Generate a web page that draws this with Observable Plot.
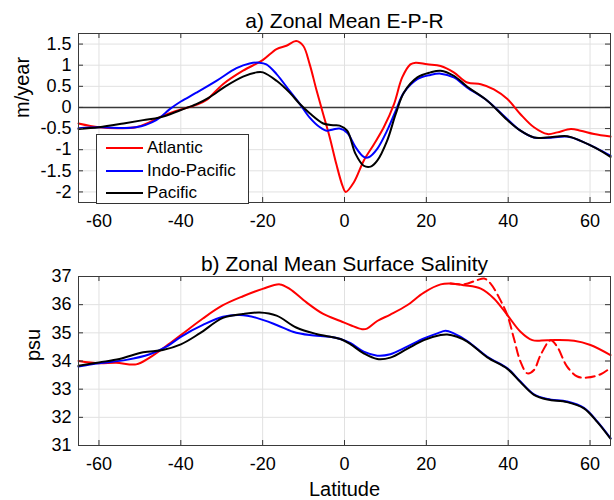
<!DOCTYPE html>
<html>
<head>
<meta charset="utf-8">
<script src="https://cdn.jsdelivr.net/npm/d3@7"></script>
<script src="https://cdn.jsdelivr.net/npm/@observablehq/plot@0.6"></script>
<style>
  body { margin: 0; background: #fff; }
  #chart { position: relative; width: 614px; height: 500px; font-family: "Liberation Sans", Arial, sans-serif; }
  #chart svg { display: block; }
  .legend { position: absolute; left: 96px; top: 134px; width: 151px; height: 68px; border: 1px solid #333; background: #fff; font-size: 17px; color: #000; }
  .legend .row { position: absolute; left: 0; height: 20px; width: 100%; }
  .legend .sw { position: absolute; left: 9px; top: 9px; width: 37px; height: 2px; }
  .legend .lb { position: absolute; left: 50px; top: 0; line-height: 20px; white-space: nowrap; }
</style>
</head>
<body>
<div id="chart"></div>
<script>
// ---------- data ----------
const series = ["Atlantic", "Indo-Pacific", "Pacific"];
const colors = ["#ff0000", "#0000ff", "#000000"];
const xTicks = [-60, -40, -20, 0, 20, 40, 60];
const eprTicks = [-2, -1.5, -1, -0.5, 0, 0.5, 1, 1.5];
const salTicks = [31, 32, 33, 34, 35, 36, 37];

// a) E-P-R (m/year)
const atlEprLat = [-65, -60, -55, -51, -47.6, -44.4, -40, -36.2, -33.8, -29.7, -24.8, -20, -16.6, -14.2, -11.8, -10.1, -8.5, -6.9, -5.2, -3.6, -2, -0.5, 0.3, 2.3, 4.7, 7.2, 9.6, 12.1, 14.1, 16.1, 17.4, 20.2, 23.5, 26.7, 30, 33.3, 36.5, 39.8, 43, 46.3, 49.6, 52, 55.3, 57.7, 61, 65];
const atlEpr = [-0.38, -0.47, -0.49, -0.47, -0.35, -0.2, -0.05, 0.06, 0.17, 0.55, 0.87, 1.12, 1.38, 1.46, 1.57, 1.46, 1.02, 0.43, -0.16, -0.71, -1.34, -1.85, -2.0, -1.77, -1.26, -0.87, -0.47, 0.08, 0.71, 1.02, 1.06, 1.02, 0.98, 0.83, 0.59, 0.55, 0.43, 0.2, -0.16, -0.47, -0.63, -0.59, -0.51, -0.55, -0.63, -0.69];

const indEprLat = [-65, -60, -51, -46, -42.7, -40, -36.2, -31.3, -26.4, -23.2, -20.8, -19.1, -16.6, -13.4, -10.9, -8.5, -6, -4.4, -2.8, -1.2, 0.65, 2.7, 4.7, 5.9, 8, 10.4, 12.5, 14.5, 17.8, 21, 23.5, 26.7, 30, 34.9, 39.8, 43, 46.3, 49.6, 54.4, 57.7, 61.8, 65];
const indEpr = [-0.49, -0.47, -0.47, -0.3, -0.04, 0.14, 0.35, 0.63, 0.93, 1.04, 1.06, 1.02, 0.79, 0.39, 0.08, -0.24, -0.47, -0.55, -0.52, -0.5, -0.6, -0.94, -1.17, -1.18, -0.98, -0.55, -0.08, 0.35, 0.67, 0.77, 0.8, 0.71, 0.47, 0.16, -0.28, -0.55, -0.71, -0.72, -0.69, -0.79, -0.98, -1.14];

const pacEprLat = [-65, -60, -54, -49.2, -45.2, -40, -36.2, -33, -28.9, -24.8, -21.5, -19.9, -16.6, -13.4, -10.9, -8.5, -5.2, -2.8, -1.2, 0.65, 2.7, 4.7, 6.4, 8, 10.4, 12.5, 14.5, 17.8, 21, 23.5, 26.7, 30, 34.9, 39.8, 43, 46.3, 49.6, 54.4, 57.7, 61.8, 65];
const pacEpr = [-0.51, -0.47, -0.38, -0.3, -0.24, -0.06, 0.08, 0.24, 0.51, 0.73, 0.83, 0.83, 0.63, 0.35, 0.08, -0.14, -0.38, -0.42, -0.43, -0.55, -1.1, -1.38, -1.4, -1.26, -0.79, -0.16, 0.35, 0.71, 0.83, 0.87, 0.75, 0.49, 0.16, -0.3, -0.55, -0.71, -0.71, -0.68, -0.79, -0.98, -1.17];

// b) Surface salinity (psu)
const atlSalLat = [-65, -60, -55.8, -50.9, -47.6, -43.5, -40, -34.6, -29.7, -24.8, -20, -15.8, -13.4, -9.3, -5.2, -1, 1.5, 4.3, 5.5, 8, 11.2, 15.3, 19.4, 23.5, 25.9, 29.2, 33.3, 36.5, 39.8, 43, 45.9, 49.6, 56.1, 60.1, 65];
const atlSal = [34.0, 33.92, 33.94, 33.88, 34.12, 34.54, 34.92, 35.51, 35.98, 36.3, 36.56, 36.72, 36.56, 36.08, 35.67, 35.42, 35.27, 35.13, 35.15, 35.42, 35.65, 35.98, 36.43, 36.72, 36.75, 36.69, 36.57, 36.22, 35.63, 35.04, 34.74, 34.74, 34.72, 34.57, 34.21];

const atlSalDashLat = [25.9, 29.2, 32.4, 34.1, 35.7, 38.1, 39.8, 41.4, 43, 44.7, 46.3, 47.9, 50.4, 52, 54.4, 56.9, 59.3, 62.6, 65];
const atlSalDash = [36.75, 36.72, 36.87, 36.93, 36.75, 36.16, 35.63, 34.8, 33.98, 33.56, 33.68, 34.21, 34.74, 34.5, 33.8, 33.45, 33.41, 33.53, 33.76];

const indSalLat = [-65, -60, -53.3, -47.6, -43.5, -40, -34.6, -29.7, -25.6, -21.5, -16.6, -12.6, -8.5, -3.6, -1, 1.5, 4.7, 8, 11.2, 15.3, 19.4, 22.7, 24.7, 26.7, 30, 34.9, 39.8, 43, 46.3, 49.6, 54.4, 58.5, 61.8, 65];
const indSal = [33.8, 33.92, 34.04, 34.24, 34.51, 34.86, 35.28, 35.57, 35.63, 35.53, 35.28, 35.04, 34.92, 34.86, 34.78, 34.63, 34.33, 34.19, 34.24, 34.51, 34.8, 34.98, 35.07, 34.98, 34.71, 34.15, 33.74, 33.27, 32.82, 32.65, 32.56, 32.34, 31.85, 31.26];

const pacSalLat = [-65, -60, -55, -49.2, -44.4, -40, -35.4, -29.7, -24.8, -20.7, -16.6, -11.8, -6.9, -1, 1.5, 4.7, 8, 11.2, 15.3, 19.4, 23.5, 25.1, 27.5, 30, 34.9, 39.8, 43, 46.3, 49.6, 54.4, 58.5, 61.8, 65];
const pacSal = [33.83, 33.95, 34.07, 34.31, 34.39, 34.59, 34.98, 35.53, 35.67, 35.72, 35.61, 35.19, 34.96, 34.78, 34.59, 34.27, 34.07, 34.12, 34.43, 34.74, 34.92, 34.94, 34.86, 34.69, 34.13, 33.72, 33.25, 32.8, 32.63, 32.54, 32.32, 31.83, 31.24];

// ---------- drawing ----------
const FONT = '"Liberation Sans", Arial, sans-serif';
const W = 614, ML = 78, MR = 4;
const pts = (lat, val) => lat.map((x, i) => ({x, y: val[i]}));

function panel({height, marginTop, marginBottom, yDomain, yTicks, title, ylabel, ylabelDx, lines, zero, xlabel}) {
  const frameH = height - marginTop - marginBottom;
  const frameW = W - ML - MR;
  const marks = [
    Plot.gridX(xTicks, {stroke: "#e1e1e1", strokeOpacity: 1}),
    Plot.gridY(yTicks, {stroke: "#e1e1e1", strokeOpacity: 1})
  ];
  if (zero) marks.push(Plot.ruleY([0], {stroke: "#3a3a3a", strokeWidth: 1.6}));
  for (const l of lines) {
    marks.push(Plot.line(pts(l.lat, l.val), {x: "x", y: "y", stroke: l.color, strokeWidth: 2, curve: "catmull-rom", strokeDasharray: l.dash || null}));
  }
  marks.push(
    Plot.ruleX(xTicks, {x: d => d, insetTop: frameH - 5, stroke: "#333"}),
    Plot.ruleX(xTicks, {x: d => d, insetBottom: frameH - 5, stroke: "#333"}),
    Plot.ruleY(yTicks, {y: d => d, insetLeft: frameW - 5, stroke: "#333"}),
    Plot.ruleY(yTicks, {y: d => d, insetRight: frameW - 5, stroke: "#333"}),
    Plot.frame({stroke: "#3a3a3a"}),
    Plot.axisX(xTicks, {tickSize: 0, tickPadding: 12, tickFormat: d => String(d), fontSize: 18, label: null, fill: "#000"}),
    Plot.axisY(yTicks, {tickSize: 0, tickPadding: 7, tickFormat: d => String(d), fontSize: 18, label: null, fill: "#000"}),
    Plot.text([title], {text: d => d, frameAnchor: "top", dy: -6, lineAnchor: "bottom", fontSize: 21, fill: "#000"}),
    Plot.text([ylabel], {text: d => d, frameAnchor: "left", rotate: -90, dx: ylabelDx, lineAnchor: "bottom", fontSize: 20, fill: "#000"})
  );
  if (xlabel) marks.push(Plot.text([xlabel], {text: d => d, frameAnchor: "bottom", dy: 50, lineAnchor: "bottom", fontSize: 20, fill: "#000"}));
  const svg = Plot.plot({
    width: W, height, marginTop, marginBottom, marginLeft: ML, marginRight: MR,
    x: {domain: [-65, 65], label: null},
    y: {domain: yDomain, label: null},
    style: {fontFamily: FONT, color: "#000", background: "#fff", overflow: "visible"},
    marks
  });
  return svg;
}

const chart = document.getElementById("chart");
chart.appendChild(panel({
  height: 240, marginTop: 33, marginBottom: 38, yDomain: [-2.25, 1.75], yTicks: eprTicks,
  title: "a) Zonal Mean E-P-R", ylabel: "m/year", ylabelDx: -49.5, zero: true,
  lines: [
    {lat: atlEprLat, val: atlEpr, color: colors[0]},
    {lat: indEprLat, val: indEpr, color: colors[1]},
    {lat: pacEprLat, val: pacEpr, color: colors[2]}
  ]
}));
chart.appendChild(panel({
  height: 260, marginTop: 36, marginBottom: 55, yDomain: [31, 37], yTicks: salTicks,
  title: "b) Zonal Mean Surface Salinity", ylabel: "psu", ylabelDx: -39, zero: false, xlabel: "Latitude",
  lines: [
    {lat: atlSalDashLat, val: atlSalDash, color: colors[0], dash: "9,5"},
    {lat: atlSalLat, val: atlSal, color: colors[0]},
    {lat: indSalLat, val: indSal, color: colors[1]},
    {lat: pacSalLat, val: pacSal, color: colors[2]}
  ]
}));

// legend (inside panel a)
const lg = document.createElement("div");
lg.className = "legend";
series.forEach((s, i) => {
  const row = document.createElement("div");
  row.className = "row";
  row.style.top = (3 + i * 22.5) + "px";
  const sw = document.createElement("div");
  sw.className = "sw";
  sw.style.background = colors[i];
  const lb = document.createElement("div");
  lb.className = "lb";
  lb.textContent = s;
  row.appendChild(sw); row.appendChild(lb);
  lg.appendChild(row);
});
chart.appendChild(lg);
</script>
</body>
</html>
